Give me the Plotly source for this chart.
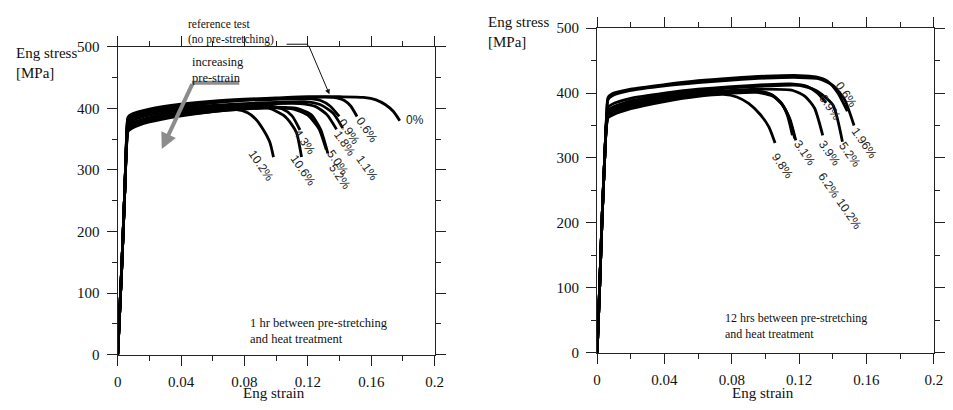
import plotly.graph_objects as go

# ---------------------------------------------------------------
# Tensile curves, 1 hr between pre-stretching and heat treatment
# (engineering strain [-], engineering stress [MPa])
# ---------------------------------------------------------------
strain_1h_00 = [0, 0.0025, 0.0045, 0.0055, 0.0065, 0.009, 0.02, 0.04, 0.06, 0.08, 0.10, 0.12, 0.14, 0.155, 0.163, 0.169, 0.174, 0.178]
stress_1h_00 = [0, 140, 270, 350, 386, 391, 399, 407, 412, 415, 417, 419, 419, 418, 414, 406, 395, 380]

strain_1h_06 = [0, 0.0025, 0.0045, 0.0055, 0.0065, 0.009, 0.02, 0.04, 0.06, 0.08, 0.10, 0.12, 0.136, 0.143, 0.147, 0.151]
stress_1h_06 = [0, 140, 270, 348, 384, 389, 397, 405, 410, 414, 416, 418, 418, 413, 404, 387]

strain_1h_09 = [0, 0.0025, 0.0045, 0.0055, 0.0065, 0.009, 0.02, 0.04, 0.06, 0.08, 0.10, 0.12, 0.128, 0.134, 0.1398]
stress_1h_09 = [0, 140, 270, 346, 382, 387, 395, 403, 409, 413, 415, 416, 413, 404, 387]

strain_1h_11 = [0, 0.0025, 0.0045, 0.0055, 0.0065, 0.009, 0.02, 0.04, 0.06, 0.08, 0.10, 0.118, 0.128, 0.136, 0.142]
stress_1h_11 = [0, 140, 270, 345, 378, 384, 392, 400, 405, 408, 410, 411, 406, 392, 368]

strain_1h_18 = [0, 0.0025, 0.0045, 0.0055, 0.0065, 0.009, 0.02, 0.04, 0.06, 0.08, 0.10, 0.115, 0.125, 0.132, 0.1381]
stress_1h_18 = [0, 140, 270, 343, 374, 380, 389, 397, 402, 406, 408, 408, 403, 390, 366]

strain_1h_43 = [0, 0.0025, 0.0045, 0.0055, 0.0065, 0.009, 0.02, 0.04, 0.06, 0.08, 0.095, 0.104, 0.110, 0.115]
stress_1h_43 = [0, 140, 270, 340, 370, 376, 385, 394, 400, 404, 404, 399, 388, 365]

strain_1h_50 = [0, 0.0025, 0.0045, 0.0055, 0.0065, 0.009, 0.02, 0.04, 0.06, 0.08, 0.10, 0.113, 0.122, 0.128, 0.1326]
stress_1h_50 = [0, 140, 270, 338, 368, 373, 382, 391, 397, 401, 402, 400, 390, 366, 327]

strain_1h_52 = [0, 0.0025, 0.0045, 0.0055, 0.0065, 0.009, 0.02, 0.04, 0.06, 0.08, 0.10, 0.111, 0.120, 0.127, 0.1316]
stress_1h_52 = [0, 140, 270, 336, 365, 370, 380, 389, 395, 399, 401, 399, 389, 367, 333]

strain_1h_102 = [0, 0.0025, 0.0045, 0.0055, 0.0065, 0.009, 0.02, 0.04, 0.06, 0.075, 0.082, 0.087, 0.092, 0.096, 0.0983]
stress_1h_102 = [0, 140, 270, 334, 363, 368, 378, 388, 395, 398, 393, 383, 365, 345, 321]

strain_1h_106 = [0, 0.0025, 0.0045, 0.0055, 0.0065, 0.009, 0.02, 0.04, 0.06, 0.08, 0.095, 0.1045, 0.1095, 0.1129, 0.116]
stress_1h_106 = [0, 140, 270, 337, 366, 371, 380, 390, 396, 400, 401, 389, 375, 360, 321]

# ---------------------------------------------------------------
# Tensile curves, 12 hrs between pre-stretching and heat treatment
# ---------------------------------------------------------------
strain_12h_06 = [0, 0.0015, 0.003, 0.0045, 0.0055, 0.0065, 0.009, 0.02, 0.04, 0.06, 0.08, 0.10, 0.12, 0.13, 0.137, 0.143, 0.1486]
stress_12h_06 = [0, 100, 210, 300, 360, 393, 399, 406, 413, 419, 423, 426, 427, 425, 418, 400, 372]

strain_12h_09 = [0, 0.0015, 0.003, 0.0045, 0.0055, 0.0065, 0.009, 0.02, 0.04, 0.06, 0.08, 0.10, 0.115, 0.125, 0.131, 0.136]
stress_12h_09 = [0, 100, 210, 300, 355, 378, 383, 392, 400, 406, 410, 413, 414, 410, 400, 385]

strain_12h_196 = [0, 0.0015, 0.003, 0.0045, 0.0055, 0.0065, 0.009, 0.02, 0.04, 0.06, 0.08, 0.10, 0.12, 0.132, 0.140, 0.147, 0.1526]
stress_12h_196 = [0, 100, 210, 300, 358, 390, 396, 404, 411, 416, 420, 423, 424, 422, 412, 390, 350]

strain_12h_52 = [0, 0.0015, 0.003, 0.0045, 0.0055, 0.0065, 0.009, 0.02, 0.04, 0.06, 0.08, 0.10, 0.12, 0.130, 0.140, 0.1457]
stress_12h_52 = [0, 100, 210, 300, 354, 373, 378, 388, 397, 403, 408, 411, 412, 404, 382, 325]

strain_12h_39 = [0, 0.0015, 0.003, 0.0045, 0.0055, 0.0065, 0.009, 0.02, 0.04, 0.06, 0.08, 0.10, 0.1163, 0.1235, 0.1291, 0.134]
stress_12h_39 = [0, 100, 210, 300, 352, 371, 376, 385, 394, 400, 404, 406, 404, 395, 377, 335]

strain_12h_31 = [0, 0.0015, 0.003, 0.0045, 0.0055, 0.0065, 0.009, 0.02, 0.04, 0.06, 0.08, 0.095, 0.1040, 0.1095, 0.1140, 0.1174]
stress_12h_31 = [0, 100, 210, 300, 351, 369, 374, 383, 392, 399, 403, 403, 397, 384, 362, 330]

strain_12h_62 = [0, 0.0015, 0.003, 0.0045, 0.0055, 0.0065, 0.009, 0.02, 0.04, 0.06, 0.08, 0.095, 0.1045, 0.1100, 0.1145, 0.118]
stress_12h_62 = [0, 100, 210, 300, 348, 363, 367, 378, 389, 396, 400, 401, 395, 382, 360, 327]

strain_12h_102 = [0, 0.0015, 0.003, 0.0045, 0.0055, 0.0065, 0.009, 0.02, 0.04, 0.06, 0.08, 0.095, 0.1035, 0.1090, 0.1130, 0.116]
stress_12h_102 = [0, 100, 210, 300, 350, 366, 371, 381, 391, 398, 402, 403, 398, 386, 366, 335]

strain_12h_98 = [0, 0.0015, 0.003, 0.0045, 0.0055, 0.0065, 0.009, 0.02, 0.04, 0.06, 0.075, 0.083, 0.090, 0.0969, 0.1020, 0.1057]
stress_12h_98 = [0, 100, 210, 300, 347, 362, 366, 376, 387, 395, 398, 394, 384, 367, 348, 323]

# Pre-strain label of each curve
labels_1h = ["0%", "0.6%", "0.9%", "1.1%", "1.8%", "4.3%", "5.0%", "5.2%", "10.2%", "10.6%"]
labels_12h = ["0.6%", "0.9%", "1.96%", "5.2%", "3.9%", "3.1%", "6.2%", "10.2%", "9.8%"]

curves_1h = [
    (strain_1h_00, stress_1h_00), (strain_1h_06, stress_1h_06), (strain_1h_09, stress_1h_09),
    (strain_1h_11, stress_1h_11), (strain_1h_18, stress_1h_18), (strain_1h_43, stress_1h_43),
    (strain_1h_50, stress_1h_50), (strain_1h_52, stress_1h_52), (strain_1h_102, stress_1h_102),
    (strain_1h_106, stress_1h_106),
]
curves_12h = [
    (strain_12h_06, stress_12h_06), (strain_12h_09, stress_12h_09), (strain_12h_196, stress_12h_196),
    (strain_12h_52, stress_12h_52), (strain_12h_39, stress_12h_39), (strain_12h_31, stress_12h_31),
    (strain_12h_62, stress_12h_62), (strain_12h_102, stress_12h_102), (strain_12h_98, stress_12h_98),
]

x_ticks = [0, 0.04, 0.08, 0.12, 0.16, 0.2]
x_ticktext = ["0", "0.04", "0.08", "0.12", "0.16", "0.2"]
y_ticks = [0, 100, 200, 300, 400, 500]

W, H = 953, 410
SERIF = "Liberation Serif, Times New Roman, serif"
SANS = "Liberation Sans, Arial, sans-serif"
INK = "#111111"

fig = go.Figure()

for xs, ys in curves_1h:
    fig.add_trace(go.Scatter(x=xs, y=ys, mode="lines", xaxis="x", yaxis="y",
                             line=dict(color="black", width=2.8, shape="spline", smoothing=0.6),
                             hoverinfo="skip", showlegend=False))
for xs, ys in curves_12h:
    fig.add_trace(go.Scatter(x=xs, y=ys, mode="lines", xaxis="x2", yaxis="y2",
                             line=dict(color="black", width=2.8, shape="spline", smoothing=0.6),
                             hoverinfo="skip", showlegend=False))


def px_x(p):
    return p / W


def px_y(p):
    return 1 - p / H


axis_common = dict(
    showline=True, linecolor="#222", linewidth=1.3, mirror="ticks",
    ticks="outside", ticklen=10, tickwidth=1.2, tickcolor="#222",
    showgrid=False, zeroline=False,
    tickfont=dict(family=SERIF, size=15, color=INK),
)

fig.update_layout(
    width=W, height=H,
    margin=dict(l=0, r=0, t=0, b=0),
    paper_bgcolor="white", plot_bgcolor="white",
    xaxis=dict(domain=[px_x(115.3), px_x(436.6)], range=[0, 0.2], anchor="y",
               tickvals=x_ticks, ticktext=x_ticktext, ticklabelstandoff=3,
               minor=dict(dtick=0.02, ticklen=5, tickcolor="#222", ticks="outside"),
               **axis_common),
    yaxis=dict(domain=[px_y(360.7), px_y(40.5)], range=[0, 500], anchor="x",
               tickvals=y_ticks, ticklabelstandoff=4,
               minor=dict(dtick=50, ticklen=5, tickcolor="#222", ticks="outside"),
               **axis_common),
    xaxis2=dict(domain=[px_x(601.3), px_x(942.7)], range=[0, 0.2], anchor="y2",
                tickvals=x_ticks, ticktext=x_ticktext, ticklabelstandoff=3,
                minor=dict(dtick=0.02, ticklen=5, tickcolor="#222", ticks="outside"),
                **axis_common),
    yaxis2=dict(domain=[px_y(358.7), px_y(21)], range=[0, 500], anchor="x2",
                tickvals=y_ticks, ticklabelstandoff=4,
                minor=dict(dtick=50, ticklen=5, tickcolor="#222", ticks="outside"),
                **axis_common),
)

ann = []


def paper_text(text, x, y, size=15, xanchor="left", yanchor="middle", family=SERIF):
    return dict(text=text, x=px_x(x), y=px_y(y), xref="paper", yref="paper",
                xanchor=xanchor, yanchor=yanchor, showarrow=False, align="left",
                borderpad=0, font=dict(family=family, size=size, color=INK))


# Axis titles and notes
ann += [
    paper_text("Eng stress<br>[MPa]", 11, 57),
    paper_text("Eng strain", 273.5, 410, xanchor="center", yanchor="bottom"),
    paper_text("Eng stress<br>[MPa]", 490, 25),
    paper_text("Eng strain", 770, 410, xanchor="center", yanchor="bottom"),
    paper_text("1 hr between pre-stretching<br>and heat treatment", 248, 336, size=12.5),
    paper_text("12 hrs between pre-stretching<br>and heat treatment", 730, 331, size=12),
    paper_text("reference test<br>(no pre-stretching)", 186, 25, size=11.5),
    paper_text("increasing<br>pre-strain", 190, 64, size=12.5),
]

# Curve labels (strain, stress) beside each curve end
label_pos_1h = {
    "0%": (0.1805, 381), "0.6%": (0.1573, 365), "0.9%": (0.1461, 362), "1.1%": (0.1573, 303),
    "1.8%": (0.1436, 343), "4.3%": (0.1180, 346), "5.0%": (0.1392, 312), "5.2%": (0.1404, 289),
    "10.2%": (0.0907, 307), "10.6%": (0.1168, 300),
}
label_pos_12h = {
    "0.6%": (0.1481, 397), "0.9%": (0.1381, 378), "1.96%": (0.1586, 323), "5.2%": (0.1504, 305),
    "3.9%": (0.1381, 308), "3.1%": (0.1235, 308), "6.2%": (0.1375, 258), "10.2%": (0.1498, 214),
    "9.8%": (0.1100, 287),
}
for lab in labels_1h:
    lx, ly = label_pos_1h[lab]
    if lab == "0%":
        ann.append(dict(text=lab, x=lx, y=ly, xref="x", yref="y", xanchor="left", yanchor="middle",
                        showarrow=False, font=dict(family=SANS, size=12, color="#222")))
    else:
        ann.append(dict(text=lab, x=lx, y=ly, xref="x", yref="y", textangle=55,
                        showarrow=False, font=dict(family=SANS, size=12, color="#222")))
for lab in labels_12h:
    lx, ly = label_pos_12h[lab]
    ann.append(dict(text=lab, x=lx, y=ly, xref="x2", yref="y2", textangle=55,
                    showarrow=False, font=dict(family=SANS, size=12, color="#222")))

# Pointer to the reference test curve
ann.append(dict(x=0.1336, y=423, xref="x", yref="y", ax=0.1201, ay=504.7, axref="x", ayref="y",
                text="", showarrow=True, arrowhead=2, arrowsize=1, arrowwidth=1, arrowcolor="#111"))
# Trend arrow for increasing pre-strain
ann.append(dict(x=0.0278, y=334, xref="x", yref="y", ax=0.0475, ay=442, axref="x", ayref="y",
                text="", showarrow=True, arrowhead=2, arrowsize=0.8, arrowwidth=4, arrowcolor="#8c8c8c"))

fig.update_layout(annotations=ann)

fig.add_shape(type="line", xref="paper", yref="paper",
              x0=px_x(286.5), x1=px_x(308.3), y0=px_y(37.7), y1=px_y(37.7),
              line=dict(color="#111", width=1))
fig.add_shape(type="line", xref="paper", yref="paper",
              x0=px_x(190.5), x1=px_x(238.5), y0=px_y(77.7), y1=px_y(77.7),
              line=dict(color="#8c8c8c", width=4))

fig.write_html("out.html")
